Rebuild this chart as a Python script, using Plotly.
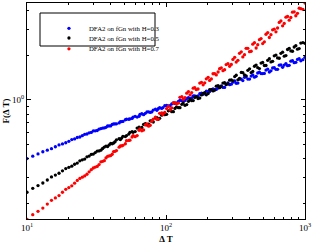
import plotly.graph_objects as go

# Scale (Delta T) values
delta_t = [10, 11, 12, 13, 14, 15, 16, 17, 18, 19, 20, 21, 22, 24, 25, 26, 28, 29, 31, 33,
           35, 37, 39, 41, 43, 46, 48, 51, 54, 57, 60, 64, 67, 71, 75, 79, 84, 88, 93, 98,
           104, 110, 116, 123, 130, 137, 145, 153, 161, 170, 180, 190, 201, 212, 224, 237,
           250, 264, 279, 295, 312, 329, 348, 367, 388, 410, 433, 457, 483, 510, 539, 569,
           601, 635, 671, 709, 749, 791, 836, 883, 933, 1000]
delta_t_extra = [23, 27, 30, 32, 34, 36, 38, 40,
                 42, 44, 47, 49, 52, 55, 58, 62, 65, 69, 73, 77, 81, 86, 90, 95,
                 101, 107, 113, 119, 126, 133, 141, 149, 157, 165, 175, 185, 195, 206,
                 218, 230, 243, 257, 271, 287, 303, 320, 338, 357, 377, 399, 421, 445,
                 470, 496, 524, 554, 585, 618, 653, 690, 729, 770, 813, 859, 908, 966]

# Fluctuation function F(Delta T), H = 0.3
f_h03 = [0.402, 0.417, 0.432, 0.447, 0.458, 0.469, 0.483, 0.497, 0.505, 0.514,
         0.526, 0.540, 0.546, 0.562, 0.574, 0.586, 0.600, 0.604, 0.619, 0.635,
         0.646, 0.653, 0.668, 0.684, 0.689, 0.700, 0.715, 0.735, 0.741, 0.750,
         0.776, 0.776, 0.807, 0.813, 0.832, 0.830, 0.867, 0.873, 0.877, 0.914,
         0.912, 0.940, 0.948, 0.979, 0.989, 0.993, 1.037, 1.033, 1.067, 1.064,
         1.112, 1.104, 1.143, 1.169, 1.172, 1.205, 1.245, 1.216, 1.303, 1.279,
         1.343, 1.300, 1.380, 1.422, 1.384, 1.449, 1.426, 1.521, 1.507, 1.510,
         1.614, 1.574, 1.656, 1.611, 1.726, 1.722, 1.706, 1.828, 1.786, 1.879,
         1.841, 1.941]
f_h03_extra = [0.558, 0.589, 0.618, 0.622, 0.641, 0.647, 0.667, 0.668,
               0.689, 0.690, 0.713, 0.716, 0.741, 0.745, 0.767, 0.766, 0.800, 0.796,
               0.830, 0.824, 0.855, 0.851, 0.889, 0.887, 0.918, 0.914, 0.955, 0.953,
               0.995, 0.984, 1.023, 1.019, 1.067, 1.059, 1.102, 1.091, 1.146, 1.140,
               1.189, 1.178, 1.225, 1.216, 1.276, 1.268, 1.318, 1.297, 1.384, 1.352,
               1.432, 1.384, 1.476, 1.445, 1.542, 1.507, 1.592, 1.545, 1.644, 1.611,
               1.718, 1.663, 1.762, 1.714, 1.841, 1.795, 1.901, 1.871]

# Fluctuation function F(Delta T), H = 0.5
f_h05 = [0.238, 0.253, 0.264, 0.275, 0.288, 0.302, 0.311, 0.320, 0.332, 0.344,
         0.351, 0.357, 0.368, 0.388, 0.394, 0.399, 0.418, 0.429, 0.441, 0.453,
         0.470, 0.488, 0.497, 0.506, 0.522, 0.547, 0.553, 0.566, 0.588, 0.611,
         0.612, 0.655, 0.652, 0.693, 0.686, 0.721, 0.755, 0.741, 0.789, 0.796,
         0.845, 0.834, 0.877, 0.887, 0.935, 0.920, 0.979, 0.989, 1.040, 1.023,
         1.081, 1.122, 1.104, 1.172, 1.167, 1.250, 1.236, 1.309, 1.288, 1.365,
         1.439, 1.368, 1.535, 1.476, 1.585, 1.531, 1.690, 1.652, 1.774, 1.710,
         1.854, 1.807, 1.986, 1.923, 2.065, 1.977, 2.193, 2.143, 2.280, 2.203,
         2.421, 2.415]
f_h05_extra = [0.375, 0.413, 0.431, 0.452, 0.458, 0.481, 0.485, 0.508,
               0.512, 0.538, 0.540, 0.568, 0.575, 0.604, 0.605, 0.646, 0.638, 0.684,
               0.678, 0.723, 0.710, 0.760, 0.752, 0.813, 0.800, 0.855, 0.834, 0.897,
               0.887, 0.953, 0.931, 1.007, 0.991, 1.054, 1.030, 1.109, 1.084, 1.172,
               1.151, 1.239, 1.211, 1.300, 1.268, 1.361, 1.346, 1.469, 1.396, 1.528,
               1.455, 1.622, 1.560, 1.722, 1.629, 1.791, 1.710, 1.901, 1.824, 2.009,
               1.914, 2.104, 1.995, 2.234, 2.133, 2.328, 2.223, 2.443]

# Fluctuation function F(Delta T), H = 0.7
f_h07 = [0.156, 0.168, 0.177, 0.186, 0.198, 0.210, 0.218, 0.226, 0.238, 0.249,
         0.256, 0.263, 0.274, 0.295, 0.301, 0.307, 0.327, 0.338, 0.352, 0.366,
         0.385, 0.406, 0.419, 0.430, 0.450, 0.480, 0.489, 0.506, 0.533, 0.562,
         0.565, 0.624, 0.619, 0.678, 0.665, 0.718, 0.766, 0.743, 0.817, 0.824,
         0.904, 0.885, 0.959, 0.953, 1.052, 1.038, 1.138, 1.122, 1.211, 1.186,
         1.315, 1.306, 1.422, 1.387, 1.507, 1.545, 1.648, 1.603, 1.758, 1.738,
         1.941, 1.854, 2.113, 2.023, 2.234, 2.133, 2.438, 2.360, 2.600, 2.472,
         2.851, 2.761, 3.006, 3.062, 3.420, 3.289, 3.664, 3.606, 3.936, 3.846,
         4.140, 4.519]
f_h07_extra = [0.286, 0.315, 0.347, 0.356, 0.382, 0.389, 0.416, 0.421,
               0.448, 0.455, 0.490, 0.494, 0.531, 0.535, 0.574, 0.575, 0.637, 0.627,
               0.689, 0.675, 0.743, 0.740, 0.813, 0.796, 0.875, 0.859, 0.955, 0.942,
               1.042, 1.012, 1.112, 1.084, 1.202, 1.175, 1.300, 1.265, 1.390, 1.355,
               1.503, 1.476, 1.626, 1.578, 1.734, 1.690, 1.879, 1.803, 2.065, 1.954,
               2.234, 2.118, 2.382, 2.244, 2.553, 2.404, 2.780, 2.642, 2.979, 2.884,
               3.342, 3.170, 3.622, 3.459, 3.917, 3.707, 4.169, 4.093]

series_names = ["DFA2 on fGn with H=0.3", "DFA2 on fGn with H=0.5", "DFA2 on fGn with H=0.7"]
x_major = [10, 100, 1000]
x_major_text = ["10<sup>1</sup>", "10<sup>2</sup>", "10<sup>3</sup>"]
x_minor = [20, 30, 40, 50, 60, 70, 80, 90, 200, 300, 400, 500, 600, 700, 800, 900]
y_major = [1]
y_major_text = ["10<sup>0</sup>"]
y_minor = [0.2, 0.3, 0.4, 0.5, 0.6, 0.7, 0.8, 0.9, 2, 3, 4]

SERIF = "Liberation Serif, Times New Roman, serif"
colors = ["#0000ff", "#000000", "#ff0000"]
legends = ["legend", "legend2", "legend3"]

x_all = delta_t + delta_t_extra
series = [f_h03 + f_h03_extra, f_h05 + f_h05_extra, f_h07 + f_h07_extra]

fig = go.Figure()
for ys, name, col, lg in zip(series, series_names, colors, legends):
    fig.add_trace(go.Scatter(
        x=x_all, y=ys, mode="markers", name=name, legend=lg,
        marker=dict(color=col, size=3.3, line=dict(width=0)),
    ))

axis_common = dict(
    type="log", showline=True, linecolor="black", linewidth=1, mirror="allticks",
    ticks="inside", ticklen=4, tickcolor="black", tickwidth=1,
    showgrid=False, zeroline=False,
    tickfont=dict(family=SERIF, size=9, color="black"),
)

fig.update_xaxes(
    **axis_common, range=[1, 3], tickmode="array", tickvals=x_major, ticktext=x_major_text,
    minor=dict(ticks="inside", ticklen=2, tickcolor="black", tickvals=x_minor, showgrid=False),
    title=dict(text="<b>Δ T</b>", font=dict(family=SERIF, size=9, color="black"), standoff=3),
    automargin=False,
)
fig.update_yaxes(
    **axis_common, range=[-0.804, 0.655], tickmode="array", tickvals=y_major, ticktext=y_major_text,
    minor=dict(ticks="inside", ticklen=2, tickcolor="black", tickvals=y_minor, showgrid=False),
    title=dict(text="<b>F(Δ T)</b>", font=dict(family=SERIF, size=9, color="black"), standoff=0),
    automargin=False,
)

leg_common = dict(
    xanchor="left", yanchor="top", bgcolor="rgba(255,255,255,0)", borderwidth=0,
    font=dict(family=SERIF, size=6.8, color="black"), itemsizing="trace",
    tracegroupgap=0, itemwidth=30,
)
fig.update_layout(
    width=312, height=245,
    margin=dict(l=27, r=7, t=3, b=26),
    paper_bgcolor="white", plot_bgcolor="white",
    showlegend=True,
    legend=dict(**leg_common, x=0.079, y=0.950),
    legend2=dict(**leg_common, x=0.079, y=0.905),
    legend3=dict(**leg_common, x=0.079, y=0.855),
)
# frame around the three legend entries (pixel offsets from the plot's top-left corner)
fig.add_shape(type="rect", xref="paper", yref="paper",
              xsizemode="pixel", ysizemode="pixel", xanchor=0, yanchor=1,
              x0=13, x1=128, y0=-10, y1=-43, layer="above",
              line=dict(color="black", width=1), fillcolor="rgba(255,255,255,0)",
              showlegend=False)

fig.write_html("out.html")
